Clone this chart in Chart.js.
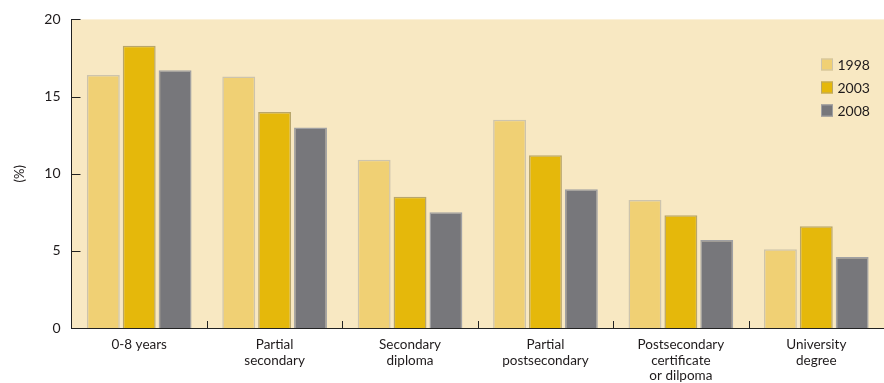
<!DOCTYPE html>
<html>
<head>
<meta charset="utf-8">
<script src="https://cdn.jsdelivr.net/npm/chart.js@4/dist/chart.umd.min.js"></script>
<style>
  html, body { margin: 0; padding: 0; background: #ffffff; }
  #wrap { width: 884px; height: 383px; position: relative; }
</style>
</head>
<body>
<div id="wrap"><canvas id="chart"></canvas></div>
<script>
// Education level categories (multi-line tick labels)
const categories = [
  ['0-8 years'],
  ['Partial', 'secondary'],
  ['Secondary', 'diploma'],
  ['Partial', 'postsecondary'],
  ['Postsecondary', 'certificate', 'or dilpoma'],
  ['University', 'degree']
];
const years = ['1998', '2003', '2008'];
const values1998 = [16.4, 16.3, 10.9, 13.5, 8.3, 5.1];
const values2003 = [18.3, 14.0, 8.5, 11.2, 7.3, 6.6];
const values2008 = [16.7, 13.0, 7.5, 9.0, 5.7, 4.6];
const yTickValues = [0, 5, 10, 15, 20];

const FONT = 'Lato, "DejaVu Sans", sans-serif';
const TEXT = '#1f1b1c';

// Beige panel behind the plot area
const panelBg = {
  id: 'panelBg',
  beforeDraw(chart) {
    const { ctx, chartArea: a } = chart;
    ctx.save();
    ctx.fillStyle = '#f8e8c2';
    ctx.fillRect(a.left, a.top, chart.width - a.left, a.bottom - a.top);
    ctx.restore();
  }
};

// Short inward ticks: category separators on x, value marks on y
const innerTicks = {
  id: 'innerTicks',
  afterDatasetsDraw(chart) {
    const { ctx, chartArea: a, scales: { x, y } } = chart;
    ctx.save();
    ctx.strokeStyle = '#222';
    ctx.lineWidth = 1;
    ctx.beginPath();
    for (let i = 0; i < categories.length - 1; i++) {
      const px = Math.round((x.getPixelForValue(i) + x.getPixelForValue(i + 1)) / 2) + 0.5;
      ctx.moveTo(px, a.bottom);
      ctx.lineTo(px, a.bottom - 7);
    }
    yTickValues.forEach(v => {
      if (v === 0) return;
      const py = Math.round(y.getPixelForValue(v)) + 0.5;
      ctx.moveTo(a.left, py);
      ctx.lineTo(a.left + 9, py);
    });
    ctx.stroke();
    ctx.restore();
  }
};

// Legend drawn inside the plot area, top right
const boxLegend = {
  id: 'boxLegend',
  afterDraw(chart) {
    const { ctx } = chart;
    const x0 = 821, y0 = 64.5, step = 23, box = 12;
    ctx.save();
    ctx.font = '14px ' + FONT;
    ctx.textBaseline = 'middle';
    ctx.textAlign = 'left';
    chart.data.datasets.forEach((ds, i) => {
      const cy = y0 + i * step;
      ctx.fillStyle = ds.backgroundColor;
      ctx.fillRect(x0, cy - box / 2, box, box);
      ctx.strokeStyle = ds.borderColor;
      ctx.lineWidth = 1;
      ctx.strokeRect(x0 + 0.5, cy - box / 2 + 0.5, box - 1, box - 1);
      ctx.fillStyle = TEXT;
      ctx.fillText(ds.label, x0 + 16.5, cy + 0.5);
    });
    ctx.restore();
  }
};

new Chart(document.getElementById('chart'), {
  type: 'bar',
  data: {
    labels: categories,
    datasets: [
      { label: years[0], data: values1998, backgroundColor: '#f0d074', borderColor: '#cdc4ad', borderWidth: 1.5 },
      { label: years[1], data: values2003, backgroundColor: '#e5b80b', borderColor: '#b9a66a', borderWidth: 1.5 },
      { label: years[2], data: values2008, backgroundColor: '#77777b', borderColor: '#a0a0a2', borderWidth: 1.5 }
    ]
  },
  options: {
    responsive: true,
    maintainAspectRatio: false,
    animation: false,
    devicePixelRatio: 1,
    layout: { padding: { top: 18, right: 0, left: 0, bottom: 0 } },
    datasets: { bar: { categoryPercentage: 0.795, barPercentage: 0.917 } },
    plugins: { legend: { display: false }, tooltip: { enabled: false } },
    scales: {
      x: {
        grid: { display: false, drawTicks: false },
        border: { display: true, color: '#222', width: 1 },
        ticks: { color: TEXT, font: { family: FONT, size: 13.5, lineHeight: 1.15 }, padding: 9, maxRotation: 0, autoSkip: false },
        afterFit(s) { s.height = 55; }
      },
      y: {
        min: 0, max: 20,
        afterBuildTicks(s) { s.ticks = yTickValues.map(v => ({ value: v })); },
        grid: { display: false, drawTicks: false },
        border: { display: true, color: '#222', width: 1 },
        ticks: { color: TEXT, font: { family: FONT, size: 14 }, padding: 11 },
        title: { display: true, text: '(%)', color: TEXT, font: { family: FONT, size: 13 }, padding: { top: 12, bottom: 0 } },
        afterFit(s) { s.width = 71.5; }
      }
    }
  },
  plugins: [panelBg, innerTicks, boxLegend]
});
</script>
</body>
</html>
